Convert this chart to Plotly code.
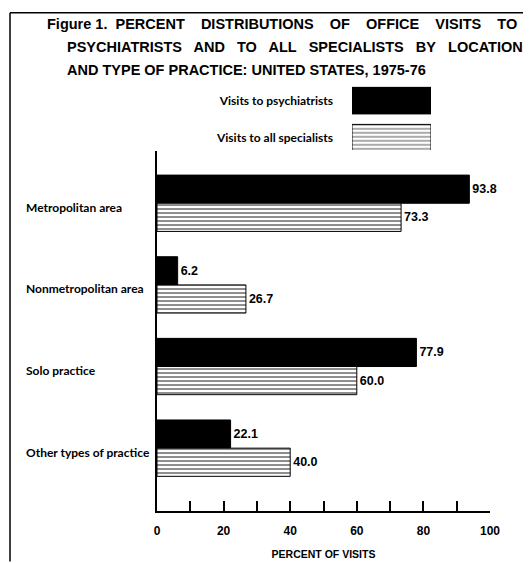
import plotly.graph_objects as go

categories = ["Metropolitan area", "Nonmetropolitan area", "Solo practice", "Other types of practice"]
psychiatrists = [93.8, 6.2, 77.9, 22.1]
all_specialists = [73.3, 26.7, 60.0, 40.0]
series_names = ["Visits to psychiatrists", "Visits to all specialists"]
x_ticks = [0, 20, 40, 60, 80, 100]
title_lines = [
    "Figure 1.\u00a0 PERCENT\u00a0\u00a0\u00a0 DISTRIBUTIONS\u00a0\u00a0\u00a0 OF\u00a0\u00a0\u00a0 OFFICE\u00a0\u00a0\u00a0 VISITS\u00a0\u00a0\u00a0 TO",
    "PSYCHIATRISTS\u00a0\u00a0 AND\u00a0\u00a0 TO\u00a0\u00a0 ALL\u00a0\u00a0 SPECIALISTS\u00a0\u00a0 BY\u00a0\u00a0 LOCATION",
    "AND TYPE OF PRACTICE: UNITED STATES, 1975-76",
]
x_title = "PERCENT OF VISITS"

W, H = 531, 563
OFF = 8  # browser body margin
L_AX, R_AX, T_AX, B_AX = 157, 490, 153, 523
ML = L_AX - OFF
MR = W - (R_AX - OFF)
MT = 72
MB = H - (B_AX - OFF)
PW, PH = W - ML - MR, H - MT - MB


def px(x):
    return (x - OFF - ML) / PW


def py(y):
    return (H - MB - (y - OFF)) / PH


HELV = "Liberation Sans"
LATO = "Lato"

fig = go.Figure()
fig.add_trace(go.Bar(
    y=categories, x=psychiatrists, orientation="h", name=series_names[0],
    marker=dict(color="black", line=dict(color="black", width=1)),
    texttemplate="%{x:.1f}", textposition="outside", cliponaxis=False,
    textfont=dict(family=HELV, size=12.5, color="black", weight="bold"),
    xaxis="x", yaxis="y",
))
fig.add_trace(go.Bar(
    y=categories, x=all_specialists, orientation="h", name=series_names[1],
    marker=dict(color="white", line=dict(color="black", width=1),
                pattern=dict(shape="-", fgcolor="black", size=4, solidity=0.45)),
    texttemplate="%{x:.1f}", textposition="outside", cliponaxis=False,
    textfont=dict(family=HELV, size=12.5, color="black", weight="bold"),
    xaxis="x", yaxis="y",
))
# legend swatches as a tiny bar chart
fig.add_trace(go.Bar(
    y=series_names, x=[1, 1], orientation="h", width=0.72,
    marker=dict(color=["black", "white"], line=dict(color="black", width=1),
                pattern=dict(shape=["", "-"], fgcolor="black", size=4, solidity=0.45)),
    xaxis="x2", yaxis="y2", showlegend=False, hoverinfo="skip",
))

annotations = []
title_pos = [(45, 22), (65, 46), (65, 70)]
for line, (x0, y0) in zip(title_lines, title_pos):
    annotations.append(dict(text=line, xref="paper", yref="paper", x=px(x0), y=py(y0),
                            xanchor="left", yanchor="middle", showarrow=False,
                            font=dict(family=HELV, size=14.5, color="black", weight="bold")))
for cat in categories:
    annotations.append(dict(text=cat, xref="paper", yref="y", x=px(24), y=cat,
                            xanchor="left", yanchor="middle", yshift=-4, showarrow=False,
                            font=dict(family=LATO, size=12, color="black", weight="bold")))

fig.update_layout(
    width=W, height=H, margin=dict(l=ML, r=MR, t=MT, b=MB),
    paper_bgcolor="white", plot_bgcolor="rgba(0,0,0,0)",
    barmode="group", bargap=0.31, bargroupgap=0.0,
    showlegend=False,
    xaxis=dict(domain=[0, 1], range=[0, 100], tickvals=x_ticks, ticks="inside", ticklen=10,
               tickwidth=1.5, tickcolor="black",
               minor=dict(dtick=10, ticks="inside", ticklen=10, tickwidth=1.5, tickcolor="black"),
               showline=True, linecolor="black", linewidth=1.5, showgrid=False, zeroline=False,
               ticklabelstandoff=8,
               tickfont=dict(family=HELV, size=12, color="black", weight="bold"),
               title=dict(text=x_title, standoff=13,
                          font=dict(family=HELV, size=10.5, color="black", weight="bold")),
               anchor="y"),
    yaxis=dict(domain=[0, py(T_AX)], range=[3.77, -0.64], showline=True, linecolor="black",
               linewidth=1.5, showticklabels=False, ticks="", showgrid=False, zeroline=False,
               anchor="x"),
    xaxis2=dict(domain=[px(352), px(431)], range=[0, 1], visible=False, anchor="y2"),
    yaxis2=dict(domain=[py(152), py(87)], range=[1.325, -0.364], showline=False, ticks="",
                showgrid=False, zeroline=False, ticklabelstandoff=18, anchor="x2",
                tickfont=dict(family=LATO, size=12, color="black", weight="bold")),
    annotations=annotations,
    shapes=[
        dict(type="line", xref="paper", yref="paper", x0=px(10), x1=px(531), y0=py(11), y1=py(11),
             line=dict(color="black", width=1.5), layer="above"),
        dict(type="line", xref="paper", yref="paper", x0=px(10), x1=px(10), y0=py(11), y1=py(575),
             line=dict(color="black", width=1.5), layer="above"),
    ],
)

fig.write_html("out.html")
